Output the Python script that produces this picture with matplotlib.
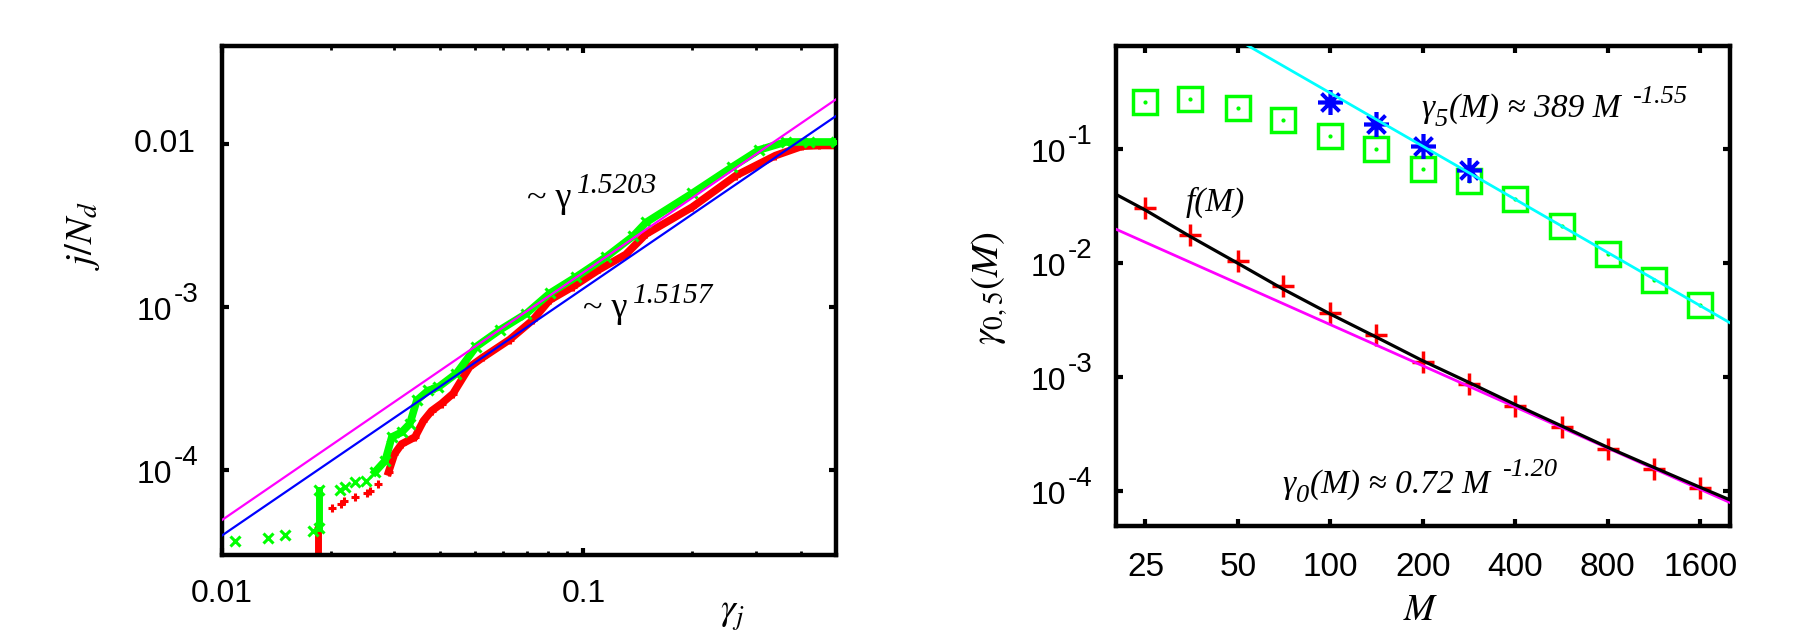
import matplotlib
matplotlib.use("Agg")

import matplotlib.pyplot as plt
from matplotlib.ticker import NullLocator, NullFormatter, FixedLocator
import numpy as np

W, H, DPI = 1794, 630, 100
PX = 72 / DPI          # points per pixel
SERIF = "Liberation Serif"
SANS = "Liberation Sans"

plt.rcParams["mathtext.fontset"] = "stix"

RED = "#ff0000"
GREEN = "#00ff00"
BLUE = "#0000ff"
MAGENTA = "#ff00ff"
CYAN = "#00ffff"

# ---------------- left panel: j/N_d vs gamma_j ----------------
# isolated points at small gamma (markers only)
red_sparse_gamma = [0.0201, 0.0213, 0.0217, 0.0234, 0.0252, 0.0256, 0.0271]
red_sparse_frac = [5.8e-5, 6.2e-5, 6.4e-5, 6.85e-5, 7.2e-5, 7.4e-5, 8.2e-5]
green_sparse_gamma = [0.01084, 0.0134, 0.0149, 0.0179,
                      0.0212, 0.0219, 0.0233, 0.0251]
green_sparse_frac = [3.64e-5, 3.82e-5, 4.0e-5, 4.2e-5,
                     7.5e-5, 7.9e-5, 8.4e-5, 8.6e-5]
# vertical streaks of overlapping points (gamma, lowest, highest)
red_streak = (0.0184, 2.9e-5, 4.4e-5)
green_streak = (0.0185, 4.4e-5, 7.5e-5)

# dense parts of the two distributions
red_gamma = [0.0289, 0.0300, 0.0314, 0.0342, 0.0361, 0.0380, 0.0405, 0.0436,
             0.0484, 0.0527, 0.0625, 0.0724, 0.0806, 0.0934, 0.1107, 0.1310,
             0.1490, 0.2000, 0.2640, 0.3400, 0.4030, 0.4500, 0.5000]
red_frac = [9.7e-5, 1.25e-4, 1.44e-4, 1.59e-4, 2.0e-4, 2.3e-4, 2.55e-4, 2.94e-4,
            4.28e-4, 4.9e-4, 6.3e-4, 8.3e-4, 1.1e-3, 1.33e-3, 1.7e-3, 2.1e-3,
            2.8e-3, 4.1e-3, 6.4e-3, 8.5e-3, 9.7e-3, 9.8e-3, 9.8e-3]
green_gamma = [0.0265, 0.0283, 0.0295, 0.0314, 0.0331, 0.0346, 0.0372, 0.0397,
               0.0445, 0.0505, 0.0586, 0.0695, 0.0806, 0.0955, 0.1156, 0.1370,
               0.1490, 0.2000, 0.2585, 0.3060, 0.3630, 0.4200, 0.5000]
green_frac = [9.7e-5, 1.14e-4, 1.59e-4, 1.70e-4, 1.92e-4, 2.67e-4, 3.07e-4, 3.22e-4,
              3.9e-4, 5.7e-4, 7.2e-4, 9.1e-4, 1.21e-3, 1.53e-3, 2.03e-3, 2.71e-3,
              3.3e-3, 4.98e-3, 7.25e-3, 9.2e-3, 1.03e-2, 1.03e-2, 1.03e-2]

# power-law fits  A * gamma^p
fit_green_A, fit_green_p = 0.054, 1.5203     # magenta
fit_red_A, fit_red_p = 0.0425, 1.5157        # blue
left_xlim = (0.01, 0.5)
left_ylim = (3.0e-5, 0.04)

# ---------------- right panel: gamma_{0,5}(M) ----------------
M = [25, 35, 50, 70, 100, 141, 200, 283, 400, 566, 800, 1131, 1600]
gamma0 = [3.0e-2, 1.75e-2, 1.03e-2, 6.2e-3, 3.66e-3, 2.34e-3, 1.36e-3,
          8.7e-4, 5.57e-4, 3.63e-4, 2.32e-4, 1.55e-4, 1.06e-4]
gamma5 = [0.258, 0.274, 0.229, 0.180, 0.130, 0.100, 0.0667,
          0.0523, 0.0363, 0.0209, 0.0119, 0.0070, 0.00424]
star_M = [100, 141, 200, 283]
star_val = [0.258, 0.167, 0.107, 0.0656]
f_M = [20, 25, 35, 50, 70, 100, 141, 200, 283, 400, 566, 800, 1131, 1600, 2000]
f_val = [4.0e-2, 2.9e-2, 1.70e-2, 9.9e-3, 5.9e-3, 3.55e-3, 2.23e-3, 1.38e-3,
         8.9e-4, 5.7e-4, 3.7e-4, 2.4e-4, 1.6e-4, 1.07e-4, 8.3e-5]
g5_coef, g5_exp = 389, -1.55
g0_coef, g0_exp = 0.72, -1.20
right_xlim = (20, 2000)
right_ylim = (4.9e-5, 0.8)
right_xticks = [25, 50, 100, 200, 400, 800, 1600]


def style_axes(ax):
    for s in ax.spines.values():
        s.set_linewidth(3.2)
    ax.tick_params(which="major", direction="in", length=5, width=3,
                   top=True, right=True, labelleft=False)
    ax.tick_params(which="minor", direction="in", length=3, width=2,
                   top=True, right=True)
    ax.yaxis.set_minor_locator(NullLocator())
    ax.yaxis.set_major_formatter(NullFormatter())


def ytick_label(ax, v, base, exp=None):
    """gnuplot-like tick label '10^{-3}' drawn as two real texts"""
    kw = dict(xycoords=("axes fraction", "data"), textcoords="offset points",
              family=SANS, va="center", annotation_clip=False)
    if exp is None:
        ax.annotate(base, xy=(0, v), xytext=(-26 * PX, 0), ha="right",
                    fontsize=23, **kw)
        return
    ax.annotate(base, xy=(0, v), xytext=(-50 * PX, -5.5 * PX), ha="right",
                fontsize=23, **kw)
    ax.annotate(exp, xy=(0, v), xytext=(-48 * PX, 11.5 * PX), ha="left",
                fontsize=20, **kw)


def rich_text(ax, x, y, pieces):
    """pieces: (text, size, style, dx_px, dy_px); first one sits on (x, y)"""
    first = prev = None
    for text, size, style, dx, dy in pieces:
        if first is None:
            first = prev = ax.text(x, y, text, fontsize=size, fontstyle=style,
                                   family=SERIF, ha="left", va="baseline")
        else:
            prev = ax.annotate(text, xy=(1, 0), xycoords=(prev, first),
                               xytext=(dx * PX, dy * PX), textcoords="offset points",
                               fontsize=size, fontstyle=style, family=SERIF,
                               ha="left", va="bottom", annotation_clip=False)


fig = plt.figure(figsize=(W / DPI, H / DPI), dpi=DPI)
fig.patch.set_facecolor("white")

# ---------- left ----------
ax1 = fig.add_axes([222 / W, 75 / H, 614 / W, 509 / H])
ax1.set_xscale("log")
ax1.set_yscale("log")

g, lo, hi = red_streak
ax1.plot([g, g], [lo, hi], "-+", color=RED, lw=5, ms=6, mew=2.2, zorder=2)
ax1.plot(red_sparse_gamma, red_sparse_frac, "+", color=RED, ms=6, mew=2.2,
         linestyle="none", zorder=2)
ax1.plot(red_gamma, red_frac, "-+", color=RED, lw=5.5, ms=6, mew=2.2,
         solid_joinstyle="miter", zorder=2)
g, lo, hi = green_streak
ax1.plot([g, g], [lo, hi], "-x", color=GREEN, lw=5, ms=6.5, mew=2.2, zorder=3)
ax1.plot(green_sparse_gamma, green_sparse_frac, "x", color=GREEN, ms=6.5, mew=2.2,
         linestyle="none", zorder=3)
ax1.plot(green_gamma, green_frac, "-x", color=GREEN, lw=5.5, ms=6.5, mew=2.2,
         solid_joinstyle="miter", zorder=3)

xl = np.array(left_xlim)
ax1.plot(xl, fit_green_A * xl ** fit_green_p, color=MAGENTA, lw=1.6, zorder=4)
ax1.plot(xl, fit_red_A * xl ** fit_red_p, color=BLUE, lw=1.6, zorder=4)

ax1.set_xlim(*left_xlim)
ax1.set_ylim(*left_ylim)
style_axes(ax1)
ax1.set_xticks([0.01, 0.1], labels=["0.01", "0.1"])
ax1.xaxis.set_minor_locator(FixedLocator([0.02, 0.03, 0.04, 0.05, 0.06, 0.07,
                                          0.08, 0.09, 0.2, 0.3, 0.4]))
ax1.xaxis.set_minor_formatter(NullFormatter())
ax1.set_yticks([0.01, 1e-3, 1e-4])
ax1.tick_params(axis="x", which="major", pad=17.5)
for lab in ax1.get_xticklabels():
    lab.set_family(SANS)
    lab.set_fontsize(23)
ytick_label(ax1, 0.01, "0.01")
ytick_label(ax1, 1e-3, "10", "-3")
ytick_label(ax1, 1e-4, "10", "-4")

rich_text(ax1, 0.0700, 4.12e-3, [("~ γ", 26, "normal", 0, 0),
                                 ("1.5203", 21, "italic", 5, 16)])
rich_text(ax1, 0.1000, 8.68e-4, [("~ γ", 26, "normal", 0, 0),
                                 ("1.5157", 21, "italic", 5, 16)])

fig.text(82 / W, 1 - 236 / H, r"$j/N_d$", rotation=90, fontsize=28,
         ha="center", va="center")
fig.text(732 / W, 1 - 615 / H, r"$\gamma_j$", fontsize=27,
         ha="center", va="center")

# ---------- right ----------
ax2 = fig.add_axes([1115.7 / W, 104 / H, 614.3 / W, 480 / H])
ax2.set_xscale("log")
ax2.set_yscale("log")

ax2.plot(M, gamma5, "s", color=GREEN, mfc="none", ms=17, mew=2.5, zorder=2)
ax2.plot(M, gamma5, "o", color=GREEN, ms=2, zorder=2)
ax2.plot(M, gamma0, "+", color=RED, ms=16.5, mew=2.5, zorder=2)
ax2.plot(star_M, star_val, marker=(8, 2, 0), color=BLUE, ms=18, mew=2.6,
         linestyle="none", zorder=3)

xr = np.array(right_xlim)
ax2.plot(xr, g0_coef * xr ** g0_exp, color=MAGENTA, lw=2, zorder=4)
ax2.plot(f_M, f_val, color="black", lw=2.3, zorder=5)
ax2.plot(xr, g5_coef * xr ** g5_exp, color=CYAN, lw=2, zorder=5)

ax2.set_xlim(*right_xlim)
ax2.set_ylim(*right_ylim)
style_axes(ax2)
ax2.xaxis.set_minor_locator(NullLocator())
ax2.set_xticks(right_xticks, labels=[str(v) for v in right_xticks])
ax2.tick_params(axis="x", which="major", pad=18.5)
for lab in ax2.get_xticklabels():
    lab.set_family(SANS)
    lab.set_fontsize(24)
ax2.set_yticks([1e-1, 1e-2, 1e-3, 1e-4])
for k in range(1, 5):
    ytick_label(ax2, 10.0 ** -k, "10", f"-{k}")

rich_text(ax2, 197.6, 0.19, [("γ", 24, "italic", 0, 0),
                             ("5", 19, "italic", 0, -7),
                             ("(M) ≈ 389 M", 24, "italic", 1, 0),
                             ("-1.55", 19, "italic", 12, 16)])
rich_text(ax2, 33.8, 0.0288, [("f(M)", 24, "italic", 0, 0)])
rich_text(ax2, 69.8, 9.46e-5, [("γ", 24, "italic", 0, 0),
                               ("0", 19, "italic", 0, -7),
                               ("(M) ≈ 0.72 M", 24, "italic", 1, 0),
                               ("-1.20", 19, "italic", 12, 19)])

fig.text(989 / W, 1 - 288 / H, r"$\gamma_{\mathit{0,5}}(M)$", rotation=90,
         fontsize=28, ha="center", va="center")
fig.text(1421 / W, 1 - 610 / H, r"$M$", fontsize=27, ha="center", va="center")

fig.savefig("out.png", dpi=DPI, facecolor="white")
